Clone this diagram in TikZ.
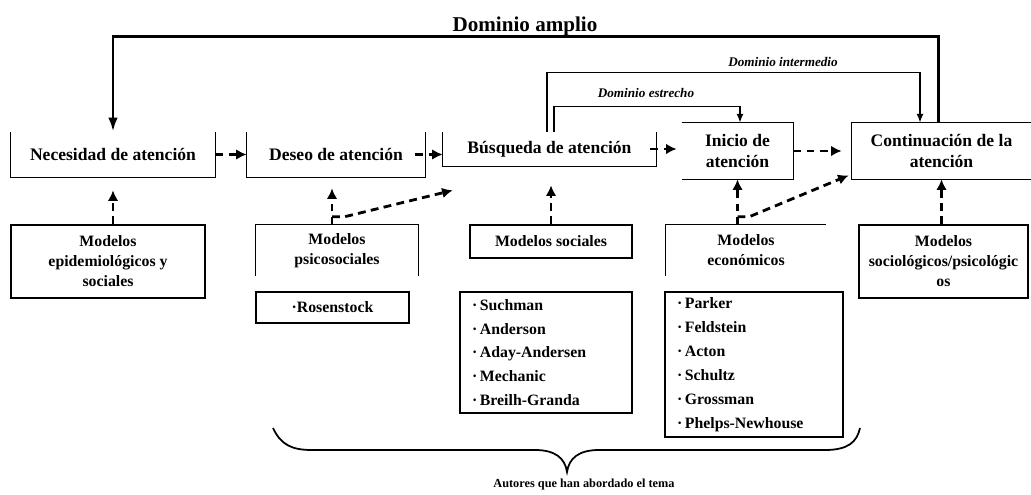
\documentclass[tikz,border=0pt]{standalone}
\usepackage{fontspec}
\setmainfont{Liberation Serif}
\usetikzlibrary{arrows.meta}

\begin{document}
\begin{tikzpicture}[x=0.02cm,y=-0.02cm]
			\tikzset{stage/.style = {inner sep=0pt, align=center,
					font=\fontsize{10}{11.5}\selectfont\bfseries}}
			\tikzset{model/.style = {inner sep=0pt, align=center,
					font=\fontsize{9}{11.4}\selectfont\bfseries}}
			\tikzset{authors/.style = {draw, line width=0.9pt, align=left, inner xsep=0.24cm,
					font=\fontsize{9}{13.6}\selectfont\bfseries}}
			\tikzset{frame/.style = {line width=0.9pt}}
			\tikzset{dedge/.style = {->,> = {Latex[length=6pt,width=6pt]}, line width=1.6pt, dash pattern=on 4.5pt off 3pt}}
			\tikzset{wide/.style = {->,> = {Latex[length=8pt,width=5.5pt]}, line width=1.7pt}}
			\tikzset{narrow/.style = {->,> = {Latex[length=5pt,width=4pt]}, line width=0.9pt}}
			\tikzset{domlabel/.style = {font=\fontsize{7.5}{9}\selectfont\bfseries\itshape}}
			\useasboundingbox (0,0) rectangle (1031,494);
			% stages
			\node[stage, minimum width=4.08cm, minimum height=0.9cm] (nec) at (113,154.5) {Necesidad de atención};
			\node[stage, minimum width=3.56cm, minimum height=0.9cm] (des) at (336,154.5) {Deseo de atención};
			\node[stage, minimum width=4.26cm, minimum height=0.68cm] (bus) at (549.5,149) {Búsqueda de atención};
			\node[stage, minimum width=2.22cm, minimum height=1.12cm] (ini) at (737.5,151) {Inicio de\\atención};
			\node[stage, minimum width=3.58cm, minimum height=1.12cm] (con) at (941.5,151) {Continuación de la\\atención};
			
			% models
			\node[model, draw, line width=0.9pt, minimum width=3.88cm, minimum height=1.46cm] (epi) at (108,261.5) {Modelos\\epidemiológicos y\\sociales};
			\node[model, minimum width=3.24cm, minimum height=1.02cm] (psi) at (337,250.5) {Modelos\\psicosociales};
			\node[model, draw, line width=0.9pt, minimum width=3.24cm, minimum height=0.66cm] (soc) at (551,241.5) {Modelos sociales};
			\node[model, minimum width=3.20cm, minimum height=1.02cm] (eco) at (746,250.5) {Modelos\\económicos};
			\node[model, draw, line width=0.9pt, minimum width=3.38cm, minimum height=1.46cm] (sps) at (943.5,261.5) {Modelos\\sociológicos/psicológic\\os};
			
			% authors
			\node[model, draw, line width=0.9pt, minimum width=3.06cm, minimum height=0.62cm] (ros) at (332.5,307.5) {·Rosenstock};
			\node[authors, text width=2.96cm, minimum height=2.42cm] (aus) at (546,352.5)
				{·\,Suchman\\·\,Anderson\\·\,Aday-Andersen\\·\,Mechanic\\·\,Breilh-Granda};
			\node[authors, text width=3.08cm, minimum height=2.9cm] (aue) at (754,364.5)
				{·\,Parker\\·\,Feldstein\\·\,Acton\\·\,Schultz\\·\,Grossman\\·\,Phelps-Newhouse};
			
			% domains
			\node[font=\fontsize{12}{14}\selectfont\bfseries] (amp) at (525,26) {Dominio amplio};
			\node[domlabel] (dint) at (783,62) {Dominio intermedio};
			\node[domlabel] (dest) at (646,93) {Dominio estrecho};
			\node[font=\fontsize{7}{8}\selectfont\bfseries] (aut) at (584,485) {Autores que han abordado el tema};
			
			% open frames
			\draw[frame] (nec.north west) -- (nec.south west) -- (nec.south east) -- (nec.north east);
			\draw[frame] (des.north west) -- (des.south west) -- (des.south east) -- (des.north east);
			\draw[frame] (bus.north west) -- (bus.south west) -- (bus.south east) -- (bus.north east);
			\draw[frame] (ini.north west) -- (ini.north east) -- (ini.south east) -- (ini.south west);
			\draw[frame] (con.north east) -- (con.north west) -- (con.south west) -- (con.south east);
			\draw[frame] (psi.south west) -- (psi.north west) -- (psi.north east) -- (psi.south east);
			\draw[frame] (eco.south west) -- (eco.north west) -- (eco.north east);
			
			%edges
			\draw[dedge] (nec.east) -- (des.west);
			\draw[dedge] ([xshift=-0.2cm]des.east) -- (des.east -| bus.west);
			\draw[dedge, shorten >=0.1cm] ([xshift=-0.12cm]bus.east) -- (bus.east -| ini.west);
			\draw[dedge, shorten >=0.2cm] (ini.east) -- (con.west);
			
			\coordinate (p1) at (nec.south |- epi.north);
			\coordinate (p2) at ([xshift=-0.1cm]psi.north);
			\coordinate (p3) at (ini.south |- eco.north);
			\draw[dedge, shorten >=0.26cm] (p1) -- (nec.south);
			\draw[dedge, shorten >=0.22cm] (p2) -- (p2 |- des.south);
			\draw[dedge, shorten >=0.38cm] (soc.north) -- (soc.north |- bus.south);
			\draw[dedge] (p3) -- (ini.south);
			\draw[dedge] (con.south |- sps.north) -- (con.south);
			\draw[dedge] ([yshift=0.16cm]p2) -- ++(13,0) -- ([xshift=0.2cm,yshift=-0.48cm]bus.south west);
			\draw[dedge] ([yshift=0.16cm]p3) -- ++(12,0) -- ([xshift=-0.06cm,yshift=0.08cm]con.south west);
			
			\draw[wide] ([xshift=-0.07cm]con.north) -- ++(0,-86) -| (nec.north);
			\draw[narrow] ([xshift=-0.05cm]bus.north) -- ++(0,-59) -| ([xshift=-0.43cm]con.north);
			\draw[narrow] ([xshift=0.09cm]bus.north) -- ++(0,-25) -| ([xshift=0.05cm]ini.north);
			
			% brace
			\draw[line width=1pt] (273,428) .. controls (281,445) and (292,450) .. (312,450) -- (535,450)
				.. controls (555,450) and (565,458) .. (567,472) .. controls (569,458) and (579,450) .. (599,450)
				-- (825,450) .. controls (848,450) and (857,442) .. (860,428);
\end{tikzpicture}
\end{document}
